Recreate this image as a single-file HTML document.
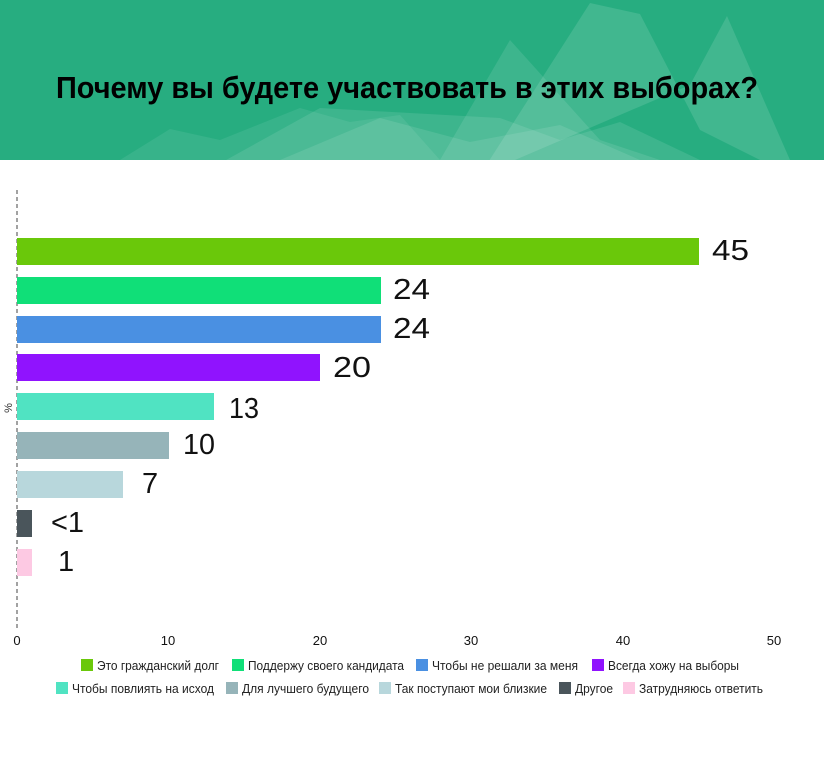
<!DOCTYPE html>
<html><head><meta charset="utf-8"><style>
body{margin:0;width:824px;height:764px;overflow:hidden;background:#fff;font-family:"Liberation Sans",sans-serif}
</style></head><body>
<svg width="824" height="764" xmlns="http://www.w3.org/2000/svg" font-family="Liberation Sans, sans-serif">
<rect x="0" y="0" width="824" height="160" fill="#27ad80"/>
<g fill="#ffffff">
<polygon points="120,160 170,129 220,140 300,108 350,122 400,115 440,160" opacity="0.08"/>
<polygon points="190,180 320,108 500,118 560,140 620,122 700,160 750,160" opacity="0.1"/>
<polygon points="280,160 380,118 470,142 560,125 640,160" opacity="0.1"/>
<polygon points="440,160 510,40 600,140 660,160" opacity="0.1"/>
<polygon points="480,175 590,3 640,14 700,130 760,160 790,160 727,16 690,85" opacity="0.12"/>
</g>
<text x="407" y="98" text-anchor="middle" font-size="31" font-weight="bold" fill="#000" textLength="702" lengthAdjust="spacingAndGlyphs">Почему вы будете участвовать в этих выборах?</text>
<line x1="17" y1="190" x2="17" y2="628" stroke="#444" stroke-dasharray="4,3" stroke-width="1"/>
<text x="12" y="408" font-size="11" fill="#333" transform="rotate(-90 12 408)" text-anchor="middle">%</text>
<g>
<rect x="17" y="238" width="682" height="27" fill="#6ac80a"/>
<rect x="17" y="277" width="364" height="27" fill="#10df78"/>
<rect x="17" y="316" width="364" height="27" fill="#4a90e2"/>
<rect x="17" y="354" width="303" height="27" fill="#9013fe"/>
<rect x="17" y="393" width="197" height="27" fill="#50e3c2"/>
<rect x="17" y="432" width="152" height="27" fill="#96b4b9"/>
<rect x="17" y="471" width="106" height="27" fill="#b8d7dc"/>
<rect x="17" y="510" width="15" height="27" fill="#4a555b"/>
<rect x="17" y="549" width="15" height="27" fill="#fdc9e3"/>
</g>
<g font-size="29" fill="#111" font-weight="300">
<text x="712" y="260" textLength="37" lengthAdjust="spacingAndGlyphs">45</text>
<text x="393" y="299" textLength="37" lengthAdjust="spacingAndGlyphs">24</text>
<text x="393" y="338" textLength="37" lengthAdjust="spacingAndGlyphs">24</text>
<text x="333" y="377" textLength="38" lengthAdjust="spacingAndGlyphs">20</text>
<text x="229" y="418" textLength="30" lengthAdjust="spacingAndGlyphs">13</text>
<text x="183" y="454" textLength="32" lengthAdjust="spacingAndGlyphs">10</text>
<text x="142" y="493">7</text>
<text x="51" y="532">&lt;1</text>
<text x="58" y="571">1</text>
</g>
<g font-size="13" fill="#111" text-anchor="middle">
<text x="17" y="645">0</text><text x="168" y="645">10</text><text x="320" y="645">20</text><text x="471" y="645">30</text><text x="623" y="645">40</text><text x="774" y="645">50</text>
</g>
<g font-size="12.5" fill="#222">
<rect x="81" y="659" width="12" height="12" fill="#6ac80a"/><text x="97" y="670" textLength="122" lengthAdjust="spacingAndGlyphs">Это гражданский долг</text>
<rect x="232" y="659" width="12" height="12" fill="#10df78"/><text x="248" y="670" textLength="156" lengthAdjust="spacingAndGlyphs">Поддержу своего кандидата</text>
<rect x="416" y="659" width="12" height="12" fill="#4a90e2"/><text x="432" y="670" textLength="146" lengthAdjust="spacingAndGlyphs">Чтобы не решали за меня</text>
<rect x="592" y="659" width="12" height="12" fill="#9013fe"/><text x="608" y="670" textLength="131" lengthAdjust="spacingAndGlyphs">Всегда хожу на выборы</text>
<rect x="56" y="682" width="12" height="12" fill="#50e3c2"/><text x="72" y="693" textLength="142" lengthAdjust="spacingAndGlyphs">Чтобы повлиять на исход</text>
<rect x="226" y="682" width="12" height="12" fill="#96b4b9"/><text x="242" y="693" textLength="127" lengthAdjust="spacingAndGlyphs">Для лучшего будущего</text>
<rect x="379" y="682" width="12" height="12" fill="#b8d7dc"/><text x="395" y="693" textLength="152" lengthAdjust="spacingAndGlyphs">Так поступают мои близкие</text>
<rect x="559" y="682" width="12" height="12" fill="#4a555b"/><text x="575" y="693" textLength="38" lengthAdjust="spacingAndGlyphs">Другое</text>
<rect x="623" y="682" width="12" height="12" fill="#fdc9e3"/><text x="639" y="693" textLength="124" lengthAdjust="spacingAndGlyphs">Затрудняюсь ответить</text>
</g>
</svg>
</body></html>
